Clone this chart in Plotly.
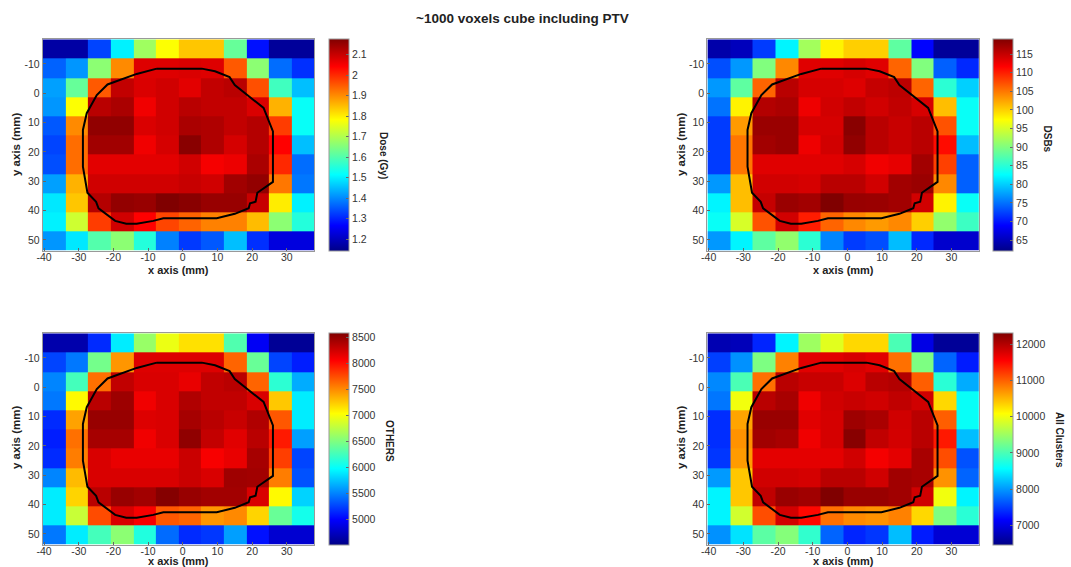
import plotly.graph_objects as go

W, H = 1071, 567

x_mm = [-37.1, -30.6, -24.0, -17.5, -11.0, -4.4, 2.1, 8.6, 15.2, 21.7, 28.2, 34.7]
y_mm = [-15.1, -8.5, -2.0, 4.5, 11.1, 17.6, 24.2, 30.7, 37.3, 43.9, 50.4]
x_ticks = [-40, -30, -20, -10, 0, 10, 20, 30]
x_tick_labels = ["-40", "-30", "-20", "-10", "0", "10", "20", "30"]
y_ticks = [-10, 0, 10, 20, 30, 40, 50]
y_tick_labels = ["-10", "0", "10", "20", "30", "40", "50"]

dose = [
    [1.17, 1.17, 1.33, 1.50, 1.68, 1.78, 1.84, 1.84, 1.62, 1.28, 1.16, 1.16],
    [1.36, 1.41, 1.66, 1.90, 2.075, 2.075, 2.08, 2.075, 1.95, 1.66, 1.37, 1.31],
    [1.42, 1.62, 1.95, 2.105, 2.08, 2.09, 2.07, 2.105, 2.115, 1.96, 1.58, 1.45],
    [1.41, 1.78, 2.115, 2.13, 2.055, 2.09, 2.115, 2.105, 2.105, 2.08, 1.86, 1.52],
    [1.35, 1.90, 2.157, 2.157, 2.08, 2.09, 2.13, 2.125, 2.105, 2.12, 1.98, 1.52],
    [1.33, 1.93, 2.14, 2.14, 2.055, 2.085, 2.165, 2.125, 2.085, 2.12, 2.04, 1.45],
    [1.34, 1.93, 2.07, 2.07, 2.07, 2.07, 2.09, 2.05, 2.06, 2.13, 2.00, 1.37],
    [1.42, 1.86, 2.09, 2.09, 2.09, 2.09, 2.10, 2.09, 2.14, 2.155, 1.92, 1.38],
    [1.49, 1.84, 2.12, 2.155, 2.15, 2.175, 2.165, 2.15, 2.15, 2.10, 1.80, 1.50],
    [1.50, 1.73, 1.98, 2.09, 2.04, 1.97, 1.94, 1.91, 1.91, 1.85, 1.66, 1.55],
    [1.41, 1.49, 1.60, 1.66, 1.55, 1.39, 1.32, 1.35, 1.45, 1.31, 1.23, 1.23],
]
dsbs = [
    [64, 65, 72, 82, 92, 98, 100, 100, 88, 69, 63, 63],
    [73, 77, 90, 104, 113.4, 113.4, 114, 113.4, 106, 90, 74, 71],
    [77, 88, 106, 115.7, 114, 114, 113.5, 115, 115.5, 106, 85, 80],
    [75, 98, 116, 116.5, 112.5, 114.3, 115.2, 114.3, 115.2, 114, 101, 83],
    [72, 103, 117.5, 117.5, 114, 114, 118.5, 115.7, 114.8, 115.7, 107, 83],
    [72, 105, 117, 117.5, 112.5, 114.3, 118, 115.7, 114.8, 115.7, 111, 79],
    [72, 105, 113.4, 113.4, 113.4, 113.4, 114, 112.4, 113, 117, 108, 74],
    [77, 101, 114.3, 114.3, 114, 115.7, 115.7, 114.3, 117, 117.5, 104, 74],
    [82, 101, 115, 117.5, 117, 119, 117.6, 117.5, 117, 114.3, 98, 83],
    [83, 95, 107, 114.3, 110, 106, 104, 103, 104, 100, 91, 86],
    [77, 82, 88, 91, 85, 76, 72, 73, 79, 71, 66, 66],
]
others = [
    [4650, 4650, 5150, 5900, 6600, 6950, 7150, 7150, 6300, 4950, 4560, 4560],
    [5250, 5450, 6450, 7450, 8190, 8190, 8190, 8190, 7650, 6400, 5250, 5100],
    [5500, 6250, 7600, 8310, 8210, 8210, 8140, 8310, 8340, 7650, 6150, 5650],
    [5450, 7050, 8340, 8460, 8110, 8210, 8380, 8310, 8310, 8210, 7250, 5900],
    [5150, 7400, 8480, 8480, 8190, 8210, 8420, 8340, 8280, 8380, 7700, 5900],
    [5100, 7600, 8420, 8420, 8110, 8210, 8515, 8300, 8176, 8340, 7950, 5600],
    [5150, 7550, 8210, 8140, 8140, 8140, 8270, 8080, 8140, 8420, 7800, 5250],
    [5500, 7300, 8210, 8210, 8210, 8210, 8270, 8210, 8450, 8440, 7550, 5300],
    [5900, 7200, 8340, 8480, 8440, 8560, 8480, 8440, 8440, 8210, 7050, 5800],
    [5900, 6800, 7750, 8210, 8080, 7700, 7650, 7450, 7500, 7200, 6400, 6050],
    [5450, 5900, 6250, 6550, 6100, 5400, 5150, 5200, 5600, 5050, 4800, 4800],
]
all_clusters = [
    [6700, 6750, 7350, 8500, 9500, 9900, 10300, 10300, 9000, 7000, 6550, 6550],
    [7500, 7950, 9300, 10800, 11720, 11720, 11780, 11720, 10900, 9300, 7700, 7300],
    [7900, 9000, 10900, 11960, 11870, 11870, 11750, 11960, 12000, 11000, 8800, 8100],
    [7800, 10000, 11960, 12060, 11630, 11820, 11870, 11820, 11915, 11820, 10300, 8600],
    [7400, 10600, 12150, 12150, 11720, 11790, 12120, 12050, 11820, 11960, 11000, 8600],
    [7400, 10700, 12100, 12060, 11630, 11790, 12250, 11915, 11800, 11960, 11400, 8200],
    [7450, 10650, 11700, 11700, 11700, 11700, 11820, 11600, 11700, 12060, 11100, 7600],
    [8000, 10400, 11820, 11820, 11790, 11960, 11960, 11820, 12100, 12060, 10700, 7700],
    [8500, 10400, 11915, 12150, 12100, 12300, 12150, 12150, 12100, 11820, 10000, 8500],
    [8500, 9800, 11100, 11800, 11500, 10900, 10750, 10700, 10800, 10300, 9300, 8800],
    [7950, 8400, 9100, 9350, 8850, 7700, 7350, 7450, 8200, 7300, 6900, 6900],
]

dose_ticks = [1.2, 1.3, 1.4, 1.5, 1.6, 1.7, 1.8, 1.9, 2, 2.1]
dsb_ticks = [65, 70, 75, 80, 85, 90, 95, 100, 105, 110, 115]
other_ticks = [5000, 5500, 6000, 6500, 7000, 7500, 8000, 8500]
cluster_ticks = [7000, 8000, 9000, 10000, 11000, 12000]

contour_x = [-7.5, 5.5, 9.3, 13.5, 15, 18.7, 23.3, 26, 26, 21.5, 21, 19.4, 19, 15, 9.8, -5.6,
             -8.5, -13.3, -16.3, -19.5, -24.3, -25, -27.5, -28.8, -28.8, -27.7, -24.8, -21.7,
             -16.6, -13.3, -7.5]
contour_y = [-8.4, -8.4, -7.5, -5.5, -2.8, 0.6, 5, 13, 30.2, 33.9, 37, 37.5, 39.2, 41.1, 42.6, 42.6,
             43.5, 44.5, 44.5, 43.5, 39.2, 37, 33.9, 25, 12.5, 6.8, 0.6, -3,
             -5.1, -6.6, -8.4]

jet = [
    [0.0, "rgb(0,0,135)"], [0.12, "rgb(0,0,255)"], [0.36, "rgb(0,255,255)"],
    [0.62, "rgb(255,255,0)"], [0.87, "rgb(255,0,0)"], [1.0, "rgb(128,0,0)"],
]

panels = [
    dict(z=dose, label="Dose (Gy)", zmin=1.14, zmax=2.175, ticks=dose_ticks,
         left=42.7, top=39.3, cbx=328.7, lx=384, ly=155, xtx=178, xty=270, ytx=16, yty=145),
    dict(z=dsbs, label="DSBs", zmin=62, zmax=119, ticks=dsb_ticks,
         left=707.3, top=39.3, cbx=993.3, lx=1047.5, ly=139, xtx=843, xty=270, ytx=681, yty=145),
    dict(z=others, label="OTHERS", zmin=4500, zmax=8580, ticks=other_ticks,
         left=42.7, top=333.3, cbx=328.7, lx=390, ly=441, xtx=178, xty=560.5, ytx=16, yty=438),
    dict(z=all_clusters, label="All Clusters", zmin=6450, zmax=12300, ticks=cluster_ticks,
         left=707.3, top=333.3, cbx=993.3, lx=1060, ly=440, xtx=843, xty=560.5, ytx=681, yty=438),
]

PW, PH, CBW = 271.5, 211.5, 20
FONT = "Liberation Sans"
TICK = dict(family=FONT, size=10.5, color="#333333")


def text_note(text, px, py, size, angle=0):
    return dict(text="<b>%s</b>" % text, x=px / W, y=1 - py / H, xref="paper", yref="paper",
                xanchor="center", yanchor="middle", showarrow=False, textangle=angle,
                borderpad=0, font=dict(family=FONT, size=size, color="#222222"))


fig = go.Figure()
annotations = [text_note("~1000 voxels cube including PTV", 522, 18, 13.5)]
layout = {}
for i, p in enumerate(panels, start=1):
    sx = "" if i == 1 else str(i)
    fig.add_trace(go.Heatmap(
        x=x_mm, y=y_mm, z=p["z"], zmin=p["zmin"], zmax=p["zmax"], colorscale=jet,
        xaxis="x" + sx, yaxis="y" + sx,
        colorbar=dict(
            x=p["cbx"] / W, xanchor="left", xpad=0, thickness=CBW, thicknessmode="pixels",
            y=1 - p["top"] / H, yanchor="top", ypad=0, len=PH / H, lenmode="fraction",
            tickmode="array", tickvals=p["ticks"], ticktext=[str(t) for t in p["ticks"]],
            ticks="inside", ticklen=3, tickcolor="#666666",
            tickfont=TICK, outlinecolor="#999999", outlinewidth=1,
        ),
    ))
    fig.add_trace(go.Scatter(
        x=contour_x, y=contour_y, mode="lines", line=dict(color="black", width=2),
        xaxis="x" + sx, yaxis="y" + sx, showlegend=False, hoverinfo="skip",
    ))
    layout["xaxis" + sx] = dict(
        domain=[p["left"] / W, (p["left"] + PW) / W], range=[-40.4, 37.9], anchor="y" + sx,
        tickmode="array", tickvals=x_ticks, ticktext=x_tick_labels, automargin=False,
        ticks="inside", ticklen=3, tickcolor="#666666", tickfont=TICK, ticklabelstandoff=-3,
        showgrid=False, zeroline=False, showline=True, mirror=True, linecolor="#999999", linewidth=1,
    )
    layout["yaxis" + sx] = dict(
        domain=[1 - (p["top"] + PH) / H, 1 - p["top"] / H], range=[53.7, -18.4], anchor="x" + sx,
        tickmode="array", tickvals=y_ticks, ticktext=y_tick_labels, automargin=False,
        ticks="inside", ticklen=3, tickcolor="#666666", tickfont=TICK,
        showgrid=False, zeroline=False, showline=True, mirror=True, linecolor="#999999", linewidth=1,
    )
    annotations.append(text_note(p["label"], p["lx"], p["ly"], 10, 90))
    annotations.append(text_note("x axis (mm)", p["xtx"], p["xty"], 11))
    annotations.append(text_note("y axis (mm)", p["ytx"], p["yty"], 11.5, -90))

fig.update_layout(width=W, height=H, margin=dict(l=0, r=0, t=0, b=0), paper_bgcolor="white",
                  plot_bgcolor="white", showlegend=False, annotations=annotations, **layout)
fig.write_html("out.html", post_script="document.body.style.margin='0';",
               config=dict(displayModeBar=False))
